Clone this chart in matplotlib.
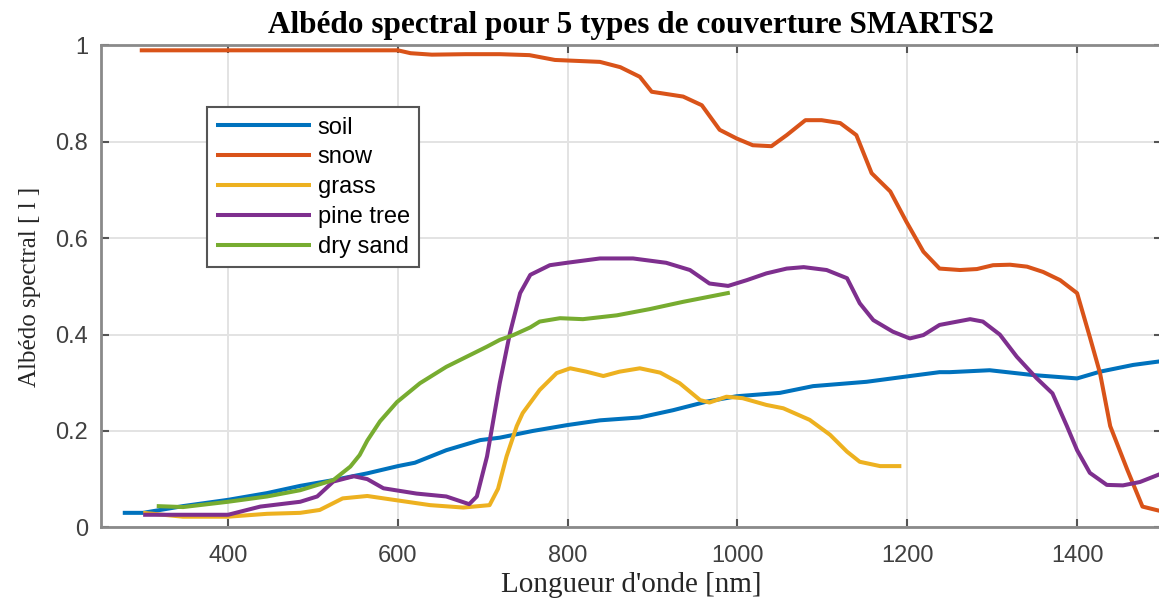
import matplotlib
matplotlib.use("Agg")
import matplotlib.pyplot as plt

# spectral albedo (wavelength nm, albedo)
soil_nm = [276, 300, 347, 400, 446, 485, 524, 564, 600, 620, 657, 697, 720, 759, 799, 838, 885,
           924, 964, 999, 1050, 1089, 1152, 1199, 1238, 1250, 1297, 1348, 1400, 1427, 1466, 1500]
soil_val = [0.030, 0.030, 0.044, 0.057, 0.071, 0.086, 0.098, 0.112, 0.127, 0.134, 0.160, 0.181, 0.186,
            0.200, 0.212, 0.222, 0.228, 0.243, 0.261, 0.272, 0.279, 0.293, 0.302, 0.313, 0.322, 0.322,
            0.326, 0.316, 0.309, 0.323, 0.337, 0.345]

snow_nm = [296, 400, 600, 615, 640, 680, 720, 755, 785, 838, 862, 885, 899, 936, 958, 979, 999, 1018,
           1040, 1058, 1080, 1099, 1121, 1140, 1158, 1180, 1199, 1219, 1238, 1262, 1282, 1301, 1321,
           1341, 1360, 1380, 1400, 1415, 1427, 1439, 1459, 1477, 1500]
snow_val = [0.990, 0.990, 0.990, 0.984, 0.981, 0.982, 0.982, 0.980, 0.970, 0.966, 0.955, 0.935, 0.904,
            0.894, 0.876, 0.825, 0.807, 0.793, 0.791, 0.814, 0.845, 0.845, 0.839, 0.814, 0.735, 0.697,
            0.634, 0.572, 0.537, 0.534, 0.536, 0.544, 0.545, 0.541, 0.530, 0.513, 0.486, 0.395, 0.320,
            0.210, 0.120, 0.043, 0.033]

grass_nm = [300, 347, 400, 446, 485, 508, 535, 564, 595, 638, 677, 708, 718, 728, 740, 747, 767, 787,
            803, 822, 842, 861, 885, 909, 932, 956, 967, 987, 1006, 1034, 1054, 1085, 1109, 1129, 1144,
            1168, 1193]
grass_val = [0.030, 0.022, 0.022, 0.028, 0.030, 0.036, 0.060, 0.065, 0.057, 0.046, 0.041, 0.046, 0.080,
             0.147, 0.210, 0.237, 0.285, 0.320, 0.330, 0.323, 0.314, 0.323, 0.330, 0.321, 0.299, 0.264,
             0.259, 0.271, 0.268, 0.254, 0.247, 0.223, 0.192, 0.157, 0.136, 0.127, 0.127]

pine_nm = [300, 347, 400, 438, 485, 505, 524, 548, 564, 583, 622, 657, 684, 693, 705, 720, 732, 744,
           756, 779, 799, 838, 877, 916, 944, 967, 989, 1011, 1034, 1058, 1078, 1105, 1129, 1144, 1160,
           1183, 1203, 1219, 1238, 1250, 1274, 1289, 1309, 1329, 1352, 1371, 1388, 1400, 1415, 1435,
           1454, 1474, 1500]
pine_val = [0.026, 0.026, 0.026, 0.043, 0.053, 0.064, 0.095, 0.106, 0.100, 0.081, 0.070, 0.064, 0.048,
            0.064, 0.147, 0.299, 0.403, 0.486, 0.524, 0.544, 0.549, 0.558, 0.558, 0.549, 0.534, 0.506,
            0.501, 0.513, 0.527, 0.537, 0.540, 0.534, 0.517, 0.465, 0.430, 0.406, 0.392, 0.399, 0.420,
            0.424, 0.432, 0.427, 0.400, 0.354, 0.310, 0.278, 0.210, 0.160, 0.113, 0.088, 0.087, 0.094,
            0.112]

sand_nm = [316, 347, 400, 446, 485, 524, 544, 555, 564, 579, 599, 626, 657, 681, 705, 720, 736, 756,
           767, 791, 818, 858, 897, 936, 991]
sand_val = [0.044, 0.042, 0.053, 0.064, 0.077, 0.098, 0.126, 0.150, 0.180, 0.220, 0.260, 0.299, 0.333,
            0.354, 0.375, 0.389, 0.399, 0.415, 0.427, 0.434, 0.432, 0.440, 0.453, 0.468, 0.487]

labels = ["soil", "snow", "grass", "pine tree", "dry sand"]
colors = ["#0072BD", "#D95319", "#EDB120", "#7E2F8E", "#77AC30"]

x_ticks = [400, 600, 800, 1000, 1200, 1400]
y_ticks = [0, 0.2, 0.4, 0.6, 0.8, 1]
y_ticklabels = ["0", "0.2", "0.4", "0.6", "0.8", "1"]

fig = plt.figure(figsize=(11.59, 6.03), dpi=100)
ax = fig.add_axes([100.7 / 1159, (603 - 527.3) / 603, 1061.3 / 1159, 481.8 / 603])

series = [(soil_nm, soil_val), (snow_nm, snow_val), (grass_nm, grass_val),
          (pine_nm, pine_val), (sand_nm, sand_val)]
for (xs, ys), lab, col in zip(series, labels, colors):
    ax.plot(xs, ys, color=col, lw=2.9, label=lab, solid_capstyle="butt", solid_joinstyle="round")

ax.set_xlim(250, 1500)
ax.set_ylim(0, 1)
ax.set_xticks(x_ticks)
ax.set_yticks(y_ticks)
ax.set_yticklabels(y_ticklabels)
ax.grid(True, color="#e3e3e3", lw=1.4)
ax.set_axisbelow(True)

for s in ax.spines.values():
    s.set_color("#8a8a8a")
    s.set_linewidth(2)
ax.tick_params(direction="in", length=6, width=1.5, color="#555555",
               top=True, right=True, labelsize=17, labelcolor="#404040")
ax.tick_params(axis="x", pad=13)
ax.tick_params(axis="y", pad=9)
for t in ax.get_xticklabels() + ax.get_yticklabels():
    t.set_family("Liberation Sans")

ax.set_title("Albédo spectral pour 5 types de couverture SMARTS2", family="Liberation Serif",
             fontweight="bold", fontsize=22.5, pad=9)
ax.set_xlabel("Longueur d'onde [nm]", family="Liberation Serif", fontsize=21, color="#262626")
ax.set_ylabel("Albédo spectral [ l ]", family="Liberation Serif", fontsize=18, color="#262626")
ax.xaxis.set_label_coords(0.5, -0.093)
ax.yaxis.set_label_coords(-0.056, 0.5)

leg = ax.legend(loc="upper left", bbox_to_anchor=(0.100, 0.872), borderaxespad=0,
                fancybox=False, framealpha=1, edgecolor="#555555",
                prop={"family": "Liberation Sans", "size": 17},
                handlelength=4.0, handletextpad=0.3, labelspacing=0.33, borderpad=0.4)
leg.get_frame().set_linewidth(1.5)

fig.savefig("out.png", dpi=100)
